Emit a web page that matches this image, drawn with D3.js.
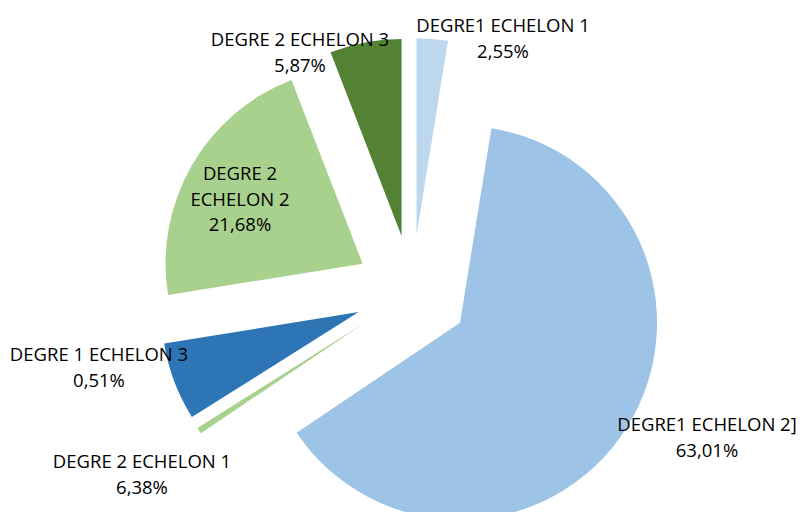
<!DOCTYPE html>
<html>
<head>
<meta charset="utf-8">
<script src="https://cdn.jsdelivr.net/npm/d3@7"></script>
<style>
  body { margin: 0; background: #fff; }
  text { font-family: "Open Sans", sans-serif; fill: #000; }
</style>
</head>
<body>
<div id="chart"></div>
<script>
// Data (clockwise from 12 o'clock)
const categories = ["DEGRE1 ECHELON 1", "DEGRE1 ECHELON 2]", "DEGRE 2 ECHELON 1",
                    "DEGRE 1 ECHELON 3", "DEGRE 2 ECHELON 2", "DEGRE 2 ECHELON 3"];
const values = [2.55, 63.01, 0.51, 6.38, 21.68, 5.87];
// the percentages as printed in the labels (two are swapped in the original)
const labelPct = ["2,55%", "63,01%", "6,38%", "0,51%", "21,68%", "5,87%"];
const labelLines = [
   ["DEGRE1 ECHELON 1"],
   ["DEGRE1 ECHELON 2]"],
   ["DEGRE 2 ECHELON 1"],
   ["DEGRE 1 ECHELON 3"],
   ["DEGRE 2", "ECHELON 2"],
   ["DEGRE 2 ECHELON 3"]
];
const colors = ["#BDD7EE", "#9DC3E6", "#A9D18E", "#2E75B6", "#A9D18E", "#548235"];

// label anchor points (manually placed in the original)
const labelPos = [[503, 26], [707, 425], [142, 462], [99, 355], [240, 174], [300, 40]];

let width = 800, height = 512;
let cx = 412, cy = 292, radius = 197, explode = 57;

let svg = d3.select("#chart")
            .append("svg")
            .attr("width", width)
            .attr("height", height);

let pie = d3.pie().sort(null).value(d => d);
let arcs = pie(values);

let arc = d3.arc().innerRadius(0).outerRadius(radius);

// Draw the exploded slices
svg.selectAll(".slice")
   .data(arcs)
   .enter()
   .append("path")
   .attr("class", "slice")
   .attr("d", arc)
   .attr("fill", (d, i) => colors[i])
   .attr("transform", d => {
      let mid = (d.startAngle + d.endAngle) / 2;
      let x = cx + Math.sin(mid) * explode;
      let y = cy - Math.cos(mid) * explode;
      return `translate(${x},${y})`;
   });

// Labels
let lineH = 25.5;
labelLines.forEach((lines, i) => {
   let all = lines.concat([labelPct[i]]);
   let t = svg.append("text")
              .attr("text-anchor", "middle")
              .style("font-size", "18.5px");
   all.forEach((s, j) => {
      t.append("tspan")
       .attr("x", labelPos[i][0])
       .attr("y", labelPos[i][1] + j * lineH)
       .attr("dy", "0.35em")
       .text(s);
   });
});
</script>
</body>
</html>
